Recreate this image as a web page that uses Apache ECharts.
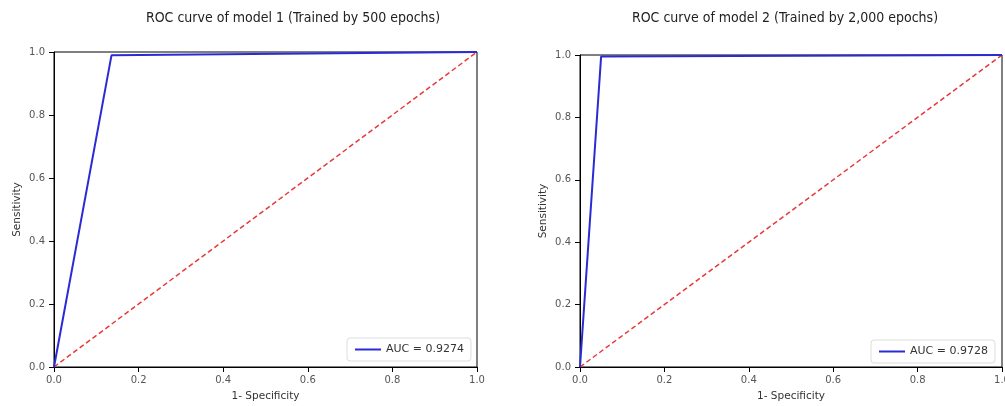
<!DOCTYPE html>
<html>
<head>
<meta charset="utf-8">
<script src="https://cdn.jsdelivr.net/npm/echarts@6/dist/echarts.min.js"></script>
<style>
  html,body{margin:0;padding:0;background:#fff;}
  #chart{width:1005px;height:406px;}
</style>
</head>
<body>
<div id="chart"></div>
<script>
// ROC points [1 - specificity, sensitivity]
const roc1 = [[0, 0], [0.136, 0.99], [1, 1]]
const roc2 = [[0, 0], [0.05, 0.995], [1, 1]]
const chance = [[0, 0], [1, 1]]
const auc1 = 'AUC = 0.9274'
const auc2 = 'AUC = 0.9728'
const titles = ['ROC curve of model 1 (Trained by 500 epochs)', 'ROC curve of model 2 (Trained by 2,000 epochs)']

const chart = echarts.init(document.getElementById('chart'), null, {renderer: 'canvas'})

const tickFont = {color: '#555', fontSize: 10, fontFamily: 'DejaVu Sans'}
const titleFont = {color: '#222', fontSize: 14, fontWeight: 'normal', fontFamily: '"Liberation Sans Narrow", "DejaVu Sans Condensed", "Noto Sans"'}

const grids = [
  {left: 54, top: 52, width: 423, height: 315},
  {left: 580, top: 55, width: 422, height: 312}
]

const mkX = (i) => ({
  gridIndex: i, type: 'value', min: 0, max: 1, interval: 0.2,
  name: '1- Specificity', nameLocation: 'middle', nameGap: 24,
  nameTextStyle: {color: '#333', fontSize: 10.5, fontFamily: 'DejaVu Sans'},
  axisLine: {show: true, onZero: false, lineStyle: {color: '#000', width: 1}},
  axisTick: {show: true, inside: false, length: 5, lineStyle: {color: '#000'}},
  axisLabel: Object.assign({margin: 8, formatter: v => v.toFixed(1)}, tickFont),
  splitLine: {show: false}
})
const mkY = (i) => ({
  gridIndex: i, type: 'value', min: 0, max: 1, interval: 0.2,
  name: 'Sensitivity', nameLocation: 'middle', nameGap: 31, nameRotate: 90,
  nameTextStyle: {color: '#333', fontSize: 10.5, fontFamily: 'DejaVu Sans'},
  axisLine: {show: true, onZero: false, lineStyle: {color: '#000', width: 1}},
  axisTick: {show: true, inside: false, length: 5, lineStyle: {color: '#000'}},
  axisLabel: Object.assign({margin: 9, formatter: v => v.toFixed(1)}, tickFont),
  splitLine: {show: false}
})

const mkLegend = (name, left, top) => ({
  data: [name], left: left, top: top, orient: 'vertical',
  itemWidth: 26, itemHeight: 2, itemGap: 0, padding: [6, 7, 6, 8],
  borderColor: '#ddd', borderWidth: 1, borderRadius: 3, backgroundColor: '#fff',
  icon: 'rect',
  textStyle: {color: '#333', fontSize: 11, fontFamily: 'DejaVu Sans'}
})

const option = {
  animation: false,
  backgroundColor: '#fff',
  title: [
    {text: titles[0], left: 288, top: 6, textAlign: 'center', textStyle: titleFont},
    {text: titles[1], left: 780, top: 6, textAlign: 'center', textStyle: titleFont}
  ],
  legend: [mkLegend(auc1, 347, 338), mkLegend(auc2, 871, 340)],
  grid: grids.map(g => Object.assign({show: true, borderColor: '#000', borderWidth: 1, backgroundColor: '#fff', containLabel: false, outerBoundsMode: 'none'}, g)),
  xAxis: [mkX(0), mkX(1)],
  yAxis: [mkY(0), mkY(1)],
  series: [
    {name: 'chance1', type: 'line', xAxisIndex: 0, yAxisIndex: 0, data: chance, symbol: 'none',
      lineStyle: {color: '#e8393a', width: 1.5, type: [5, 3]}, z: 2},
    {name: auc1, type: 'line', xAxisIndex: 0, yAxisIndex: 0, data: roc1, symbol: 'none',
      itemStyle: {color: '#2b2bd6'}, lineStyle: {color: '#2b2bd6', width: 2}, z: 3},
    {name: 'chance2', type: 'line', xAxisIndex: 1, yAxisIndex: 1, data: chance, symbol: 'none',
      lineStyle: {color: '#e8393a', width: 1.5, type: [5, 3]}, z: 2},
    {name: auc2, type: 'line', xAxisIndex: 1, yAxisIndex: 1, data: roc2, symbol: 'none',
      itemStyle: {color: '#2b2bd6'}, lineStyle: {color: '#2b2bd6', width: 2}, z: 3}
  ]
}
chart.setOption(option)
</script>
</body>
</html>
